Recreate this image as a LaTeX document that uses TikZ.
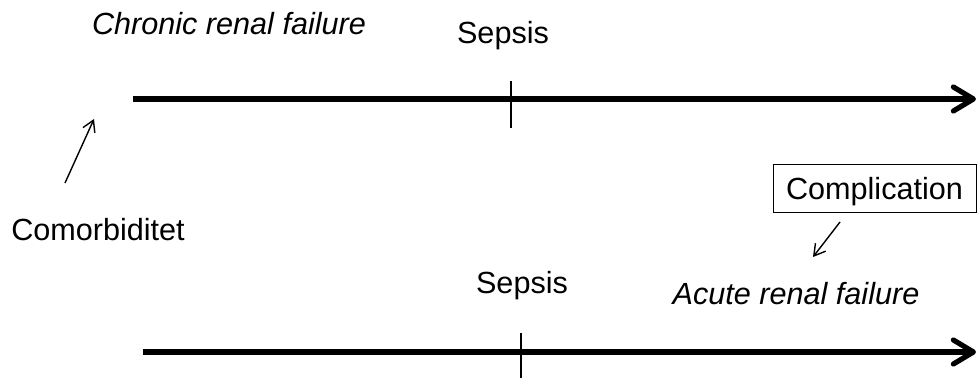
\documentclass[tikz,border=0pt]{standalone}
\usepackage{fontspec}
\setmainfont{Liberation Sans}
\usetikzlibrary{arrows.meta}
\begin{document}
\begin{tikzpicture}[x=0.5pt,y=-0.5pt,
  lbl/.style={inner sep=0pt, font=\fontsize{15.3}{18}\selectfont},
  ital/.style={lbl, font=\fontsize{15.3}{18}\selectfont\itshape},
  timeline/.style={line width=2.6pt, -{Straight Barb[length=10pt,width=12pt,round]}},
  tick/.style={line width=0.75pt},
  thinarrow/.style={line width=0.7pt, -{Straight Barb[length=5.5pt,width=6.5pt]}},
  boxed/.style={lbl, draw, line width=0.5pt, minimum width=101.5pt, minimum height=24pt,
    text height=11pt, text depth=0pt}]
\useasboundingbox (0,0) rectangle (977,378);
% top timeline
\coordinate (t1s) at (133,99);
\coordinate (t1e) at (976,99);
\draw[timeline] (t1s) -- (t1e);
\coordinate (k1a) at (511,81);
\coordinate (k1b) at (511,128);
\draw[tick] (k1a) -- (k1b);
\node[ital] (crf) at (229,24) {Chronic renal failure};
\node[lbl] (sep1) at (503,36) {Sepsis};
\node[lbl] (com) at (98,230) {Comorbiditet};
\coordinate (ca) at (65,183);
\coordinate (cb) at (94,119);
\draw[thinarrow] (ca) -- (cb);
% bottom timeline
\coordinate (t2s) at (143,352);
\coordinate (t2e) at (976,352);
\draw[timeline] (t2s) -- (t2e);
\coordinate (k2a) at (521,333);
\coordinate (k2b) at (521,378);
\draw[tick] (k2a) -- (k2b);
\node[lbl] (sep2) at (522,286) {Sepsis};
\node[boxed] (comp) at (874.5,189) {Complication};
\node[ital] (arf) at (796,294) {Acute renal failure};
\coordinate (aa) at (840,222);
\coordinate (ab) at (813,257);
\draw[thinarrow] (aa) -- (ab);
\end{tikzpicture}
\end{document}
